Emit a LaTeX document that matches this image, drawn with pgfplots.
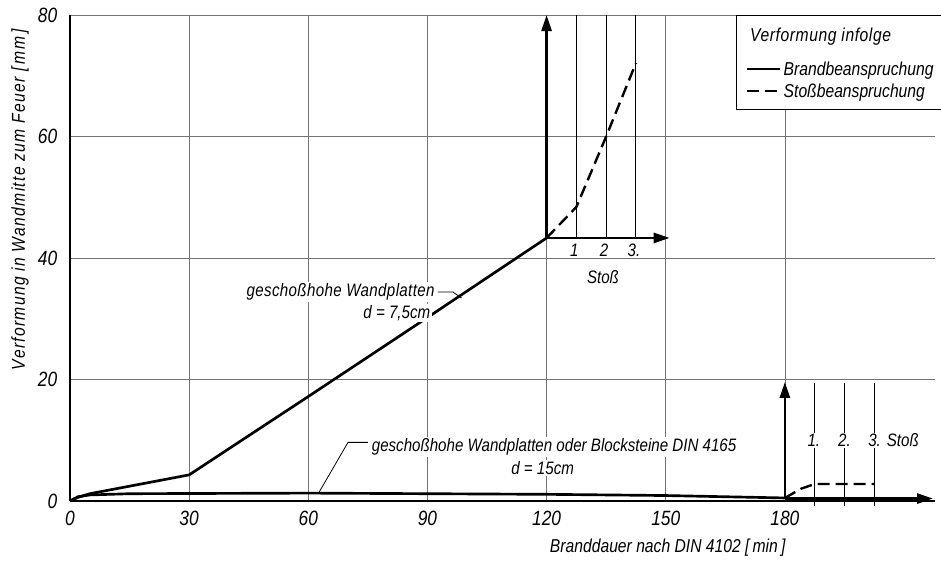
\documentclass[border=0pt]{standalone}
\usepackage{fontspec}
\setmainfont{Liberation Sans}[FakeStretch=0.84]
\usepackage{pgfplots}
\pgfplotsset{compat=1.18}
\usetikzlibrary{arrows.meta}
\newcommand{\ff}{\fontsize{13.5}{16}\selectfont\itshape}
\newcommand{\fl}{\fontsize{14}{16}\selectfont\itshape}
\newcommand{\ft}{\fontsize{15.5}{18}\selectfont\itshape}
\begin{document}
\begin{tikzpicture}[font=\ff]
\begin{axis}[
  scale only axis, width=648.75pt, height=364.5pt,
  xmin=0, xmax=217.8, ymin=0, ymax=80,
  axis x line*=bottom, axis y line*=left,
  axis line style={line width=0.8pt, -},
  xtick={0,30,...,180}, ytick={0,20,...,80},
  major tick length=0pt,
  grid=major, major grid style={black!55, line width=0.5pt},
  clip=false,
  /pgf/number format/assume math mode=true,
  ticklabel style={font=\ft},
  xticklabel style={yshift=-4pt},
  yticklabel style={xshift=-6pt},
  xlabel={Branddauer nach DIN 4102 [\,min\,]},
  ylabel={\addfontfeature{LetterSpace=7}Verformung in Wandmitte zum Feuer [\,mm\,]},
  label style={font=\fl},
  xlabel style={at={(axis description cs:0.691,0)}, anchor=center, yshift=-35.25pt},
  ylabel style={at={(axis description cs:0,0.62)}, anchor=center, yshift=37.5pt},
  legend cell align=left,
  legend style={at={(axis cs:170.2,73.0)}, anchor=north west, draw=none, fill=none,
    inner sep=0pt, row sep=0pt, font=\fl},
  legend image code/.code={\draw[#1, line width=1.6pt] (0pt,0pt) -- (24.5pt,0pt);},
]
% legend frame and title
\draw[line width=0.6pt, fill=white] (axis cs:167.9,80) rectangle (axis cs:222,64.4);
\node[anchor=west, inner sep=0pt, font=\fl] at (axis cs:171.2,76.4) {\addfontfeature{LetterSpace=3}Verformung infolge};

% d = 7.5 cm wall, fire
\addplot[black, line width=2pt] coordinates {(0,0) (2,0.6) (5,1.2) (30,4.3) (60,17.2) (90,30.2) (120,43.3)};
\addlegendentry{\strut Brandbeanspruchung}
% impact, upper
\addplot[black, line width=1.8pt, dash pattern=on 9pt off 4.5pt] coordinates {(120,43.3) (127.5,48.4) (135,60) (142.5,72.1)};
\addlegendentry{\strut Stoßbeanspruchung}

% d = 15 cm wall, fire
\addplot[black, line width=2pt, forget plot] coordinates {(0,0) (2,0.7) (5,1.0) (15,1.2) (60,1.3) (120,1.1) (150,0.9) (180,0.5)};
% impact, lower
\addplot[black, line width=1.8pt, dash pattern=on 9pt off 4.5pt, forget plot] coordinates {(180,0.5) (184,2.0) (187.5,2.8) (202.5,2.8)};

% upper inset
\addplot[black, line width=0.7pt, forget plot] coordinates {(127.5,43.3) (127.5,80)};
\addplot[black, line width=0.7pt, forget plot] coordinates {(135,43.3) (135,80)};
\addplot[black, line width=0.7pt, forget plot] coordinates {(142.5,43.3) (142.5,80)};
\addplot[black, line width=2pt, -{Triangle[length=12pt,width=7.5pt]}, forget plot] coordinates {(120,43.3) (120,80)};
\addplot[black, line width=2pt, -{Triangle[length=12pt,width=7.5pt]}, forget plot] coordinates {(120,43.3) (151,43.3)};

% lower inset
\addplot[black, line width=0.7pt, forget plot] coordinates {(187.5,-0.8) (187.5,19.5)};
\addplot[black, line width=0.7pt, forget plot] coordinates {(195,-0.8) (195,19.5)};
\addplot[black, line width=0.7pt, forget plot] coordinates {(202.5,-0.8) (202.5,19.5)};
\addplot[black, line width=2pt, -{Triangle[length=12pt,width=7.5pt]}, forget plot] coordinates {(180,0.5) (180,19.6)};
\addplot[black, line width=2pt, -{Triangle[length=12pt,width=7.5pt]}, forget plot] coordinates {(180,0.4) (217.3,0.4)};

% labels of insets
\node[fill=white, inner sep=1pt] at (axis cs:127.0,41.3) {1};
\node[fill=white, inner sep=1pt] at (axis cs:134.5,41.3) {2};
\node[fill=white, inner sep=1pt] at (axis cs:142.0,41.3) {3.};
\node at (axis cs:134.2,36.9) {Stoß};
\node[fill=white, inner sep=1pt] at (axis cs:187.3,10) {1.};
\node[fill=white, inner sep=1pt] at (axis cs:195,10) {2.};
\node[fill=white, inner sep=1pt] at (axis cs:202.6,10) {3.};
\node at (axis cs:209.7,10) {Stoß};

% annotations
\node[anchor=east, fill=white, inner sep=1pt] at (axis cs:92.2,34.4) {\addfontfeature{LetterSpace=2}geschoßhohe Wandplatten};
\node[fill=white, inner sep=1pt] at (axis cs:82.3,30.9) {d = 7,5cm};
\draw[line width=0.6pt] (axis cs:92.6,34.4) -- (axis cs:96.4,34.4) -- (axis cs:98.6,33.4);
\node[anchor=west, fill=white, inner sep=1pt] at (axis cs:75.6,8.9) {geschoßhohe Wandplatten oder Blocksteine DIN 4165};
\node[fill=white, inner sep=1pt] at (axis cs:119,5.4) {d = 15cm};
\draw[line width=0.6pt] (axis cs:75.0,9.65) -- (axis cs:70,9.65) -- (axis cs:62.5,1.2);
\end{axis}
\pgfresetboundingbox
\path (current axis.south west) ++(-52.5pt,-44.25pt) rectangle ++(705.75pt,420pt);
\end{tikzpicture}
\end{document}
